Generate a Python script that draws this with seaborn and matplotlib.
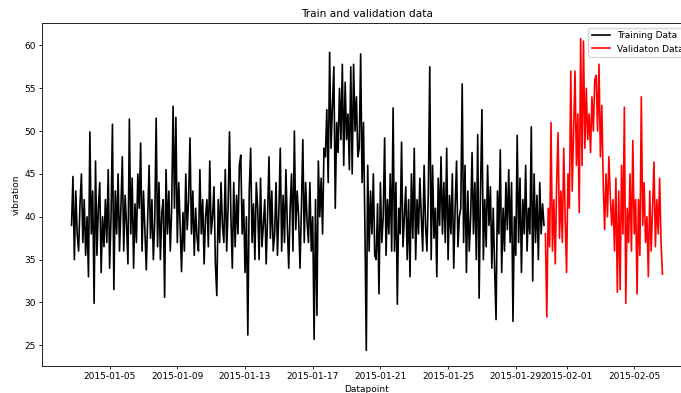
import matplotlib
matplotlib.use("Agg")
import matplotlib.pyplot as plt
import matplotlib.dates as mdates
import pandas as pd
import seaborn as sns

# ---- data (2-hourly vibration readings) ----
start_time = "2015-01-02 18:00"
step = "2h"

train_values = [
    39, 44.7, 35, 43, 38, 36, 41.5, 45, 37, 42, 35.5, 40,
    33, 49.9, 38, 43, 29.9, 46.5, 35.5, 41, 44, 33.5, 40, 36.5,
    42, 37, 45.5, 34, 40, 50.8, 31.5, 43, 38, 45, 36, 41,
    47, 36, 42.5, 39, 34.5, 51.4, 38, 44.5, 34, 41.5, 37, 45,
    41, 48.6, 36, 43, 38.5, 33.8, 40, 46, 37.5, 42, 35, 39.5,
    51.5, 36.5, 44, 35, 40.5, 42, 30.6, 45.5, 38, 43, 36, 41,
    52.9, 41, 51.6, 37, 44, 39, 33.6, 40.5, 36, 45, 38.5, 42,
    49.2, 38, 43, 35.5, 41, 37.5, 36, 45.5, 38, 42, 34.5, 40,
    42, 36.5, 46.5, 38, 40, 43.5, 34.5, 30.8, 42, 37, 44, 39,
    37, 45.5, 36, 41, 49.9, 40, 34, 44, 36.5, 42.5, 38, 46,
    47.2, 38, 42, 33.5, 40, 26.2, 43, 48, 37, 41.5, 35, 44,
    41, 35, 44.5, 36.5, 39, 42, 34.5, 40, 47, 37.5, 43, 36,
    38, 44, 35.5, 40.5, 48, 36, 42.5, 37, 45.5, 39, 34, 41,
    45, 36, 50, 38.5, 43, 40, 34, 41, 49, 37, 44, 39.5,
    37, 44, 36, 40, 25.7, 42, 28.5, 46.5, 40, 44.5, 38, 48,
    47, 52.5, 44, 59.2, 48, 53, 57.5, 41, 51, 47.5, 55, 49,
    57.8, 46, 55.7, 49, 52, 45.5, 57.5, 45, 57.8, 50, 54, 47,
    48, 59, 44, 51, 39, 24.4, 46, 36, 43, 38, 45, 35.5,
    35, 41.5, 31, 44, 37, 40, 49.2, 35.5, 42, 38, 45, 36,
    52.7, 36, 44, 29.8, 41, 38, 48.7, 36.5, 40, 43.5, 35, 42,
    33, 45, 37.5, 48, 35, 42, 38, 44.5, 40, 36, 46, 39,
    36, 43, 57.5, 35, 46, 37.5, 41, 33, 44.5, 39, 47, 38,
    44, 37, 48, 35, 42.5, 38, 45, 34, 41, 46.5, 36.5, 40,
    41, 55.5, 37, 46, 33.5, 43, 36, 40, 47.5, 38, 44, 35,
    49.6, 30.5, 43, 52.5, 35, 42, 36.5, 46, 39, 43.5, 34, 41,
    34, 28, 43, 38, 47.8, 33.5, 41, 36, 44, 38.5, 45.5, 37,
    44, 27.8, 40, 35.5, 49.5, 37, 44.5, 33.5, 42, 38, 46, 36,
    41, 38, 50.5, 32.5, 45, 37, 42.5, 35, 44, 38, 41.5, 39,
]

valid_values = [
    38, 28.3, 41, 36.5, 51, 36, 42, 34.5, 44, 49.8, 37.5, 43,
    37, 48, 40, 33.5, 45, 41, 57, 43, 50, 57, 46, 52,
    40.5, 60.8, 46, 60.5, 48, 55, 49, 52, 47.5, 54, 50, 56,
    56.5, 50, 57.8, 47, 53, 44, 38.5, 45, 40, 47, 42.5, 39,
    42, 36, 44.5, 31.2, 43, 31.5, 46, 38, 52.8, 29.9, 41, 37,
    45, 36, 48.9, 38, 42, 31, 42, 35.5, 54, 39, 44, 37,
    40, 33, 43, 36, 41, 46.4, 36.5, 42, 38, 44.5, 37, 33.3,
]

series_labels = ["Training Data", "Validaton Data"]
series_colors = ["black", "red"]
tick_days = [1, 5, 9, 13, 17, 21, 25, 29]

# ---- build frames ----
all_times = pd.date_range(start_time, periods=len(train_values) + len(valid_values), freq=step)
train_df = pd.DataFrame({"time": all_times[:len(train_values)], "vibration": train_values})
valid_df = pd.DataFrame({"time": all_times[len(train_values):], "vibration": valid_values})

fs = 6.5
fig = plt.figure(figsize=(6.81, 3.93), dpi=100)
ax = fig.add_axes([42 / 681, 27 / 393, 650 / 681, 343 / 393])

sns.lineplot(data=train_df, x="time", y="vibration", ax=ax, color=series_colors[0],
             label=series_labels[0], linewidth=1.2)
sns.lineplot(data=valid_df, x="time", y="vibration", ax=ax, color=series_colors[1],
             label=series_labels[1], linewidth=1.2)

ax.xaxis.set_major_locator(mdates.DayLocator(bymonthday=tick_days))
ax.xaxis.set_major_formatter(mdates.DateFormatter("%Y-%m-%d"))

ax.set_title("Train and validation data", fontsize=7.6, pad=4)
ax.set_xlabel("Datapoint", fontsize=fs, labelpad=2.5)
ax.set_ylabel("vibration", fontsize=fs, labelpad=2.5)
ax.tick_params(axis="both", labelsize=fs, length=2.4, width=0.6, pad=2.2)
for s in ax.spines.values():
    s.set_linewidth(0.6)

ax.legend(loc="upper right", fontsize=fs, frameon=True)

fig.savefig("out.png", dpi=100)
